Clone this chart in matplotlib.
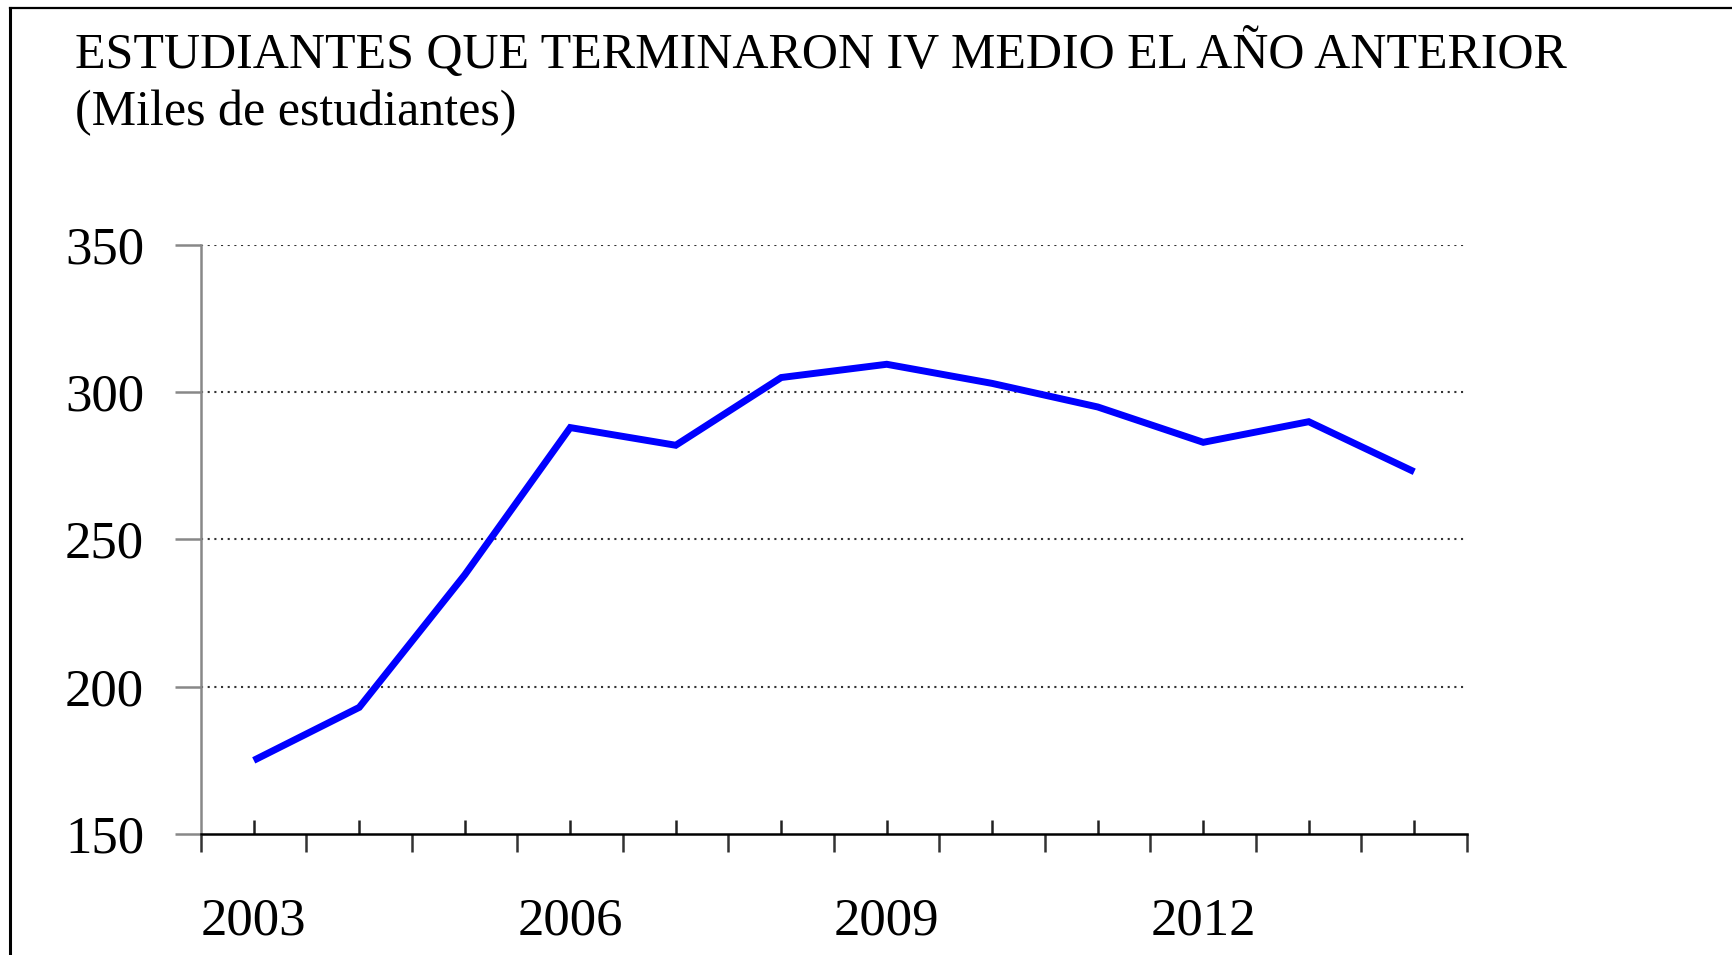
import matplotlib

matplotlib.use("Agg")
import matplotlib.pyplot as plt
import numpy as np
from matplotlib.lines import Line2D

plt.rcParams["font.family"] = ["Liberation Serif", "DejaVu Serif"]

# ------------------------------------------------------------------------------
# Data (miles de estudiantes)
# ------------------------------------------------------------------------------
YEARS = [2003, 2004, 2005, 2006, 2007, 2008, 2009, 2010, 2011, 2012, 2013, 2014]
STUDENTS = [175, 193, 238, 288, 282, 305, 309.5, 303, 295, 283, 290, 273]
YEAR_LABELS = [2003, 2006, 2009, 2012]
Y_TICKS = [150, 200, 250, 300, 350]

TITLE = "ESTUDIANTES QUE TERMINARON IV MEDIO EL AÑO ANTERIOR"
SUBTITLE = "(Miles de estudiantes)"

W, H = 1733, 955

fig = plt.figure(figsize=(W / 100, H / 100), dpi=100)
fig.patch.set_facecolor("white")

# axes box in pixels of the reference: x 201..1467, y 245..834
ax = fig.add_axes([201 / W, 1 - 834 / H, (1467 - 201) / W, (834 - 245) / H])

x = np.arange(len(YEARS))
ax.plot(x, STUDENTS, color="#0000ff", lw=5.0, solid_joinstyle="miter",
        solid_capstyle="butt", zorder=3)

ax.set_xlim(-0.5, len(YEARS) - 0.5)
ax.set_ylim(Y_TICKS[0], Y_TICKS[-1])

# dotted horizontal grid
for v in Y_TICKS[1:]:
    ax.axhline(v, color="#333333", lw=1.5, ls=(0, (1, 2.2)), zorder=1)

for s in ["top", "right"]:
    ax.spines[s].set_visible(False)
ax.spines["left"].set_color("#888888")
ax.spines["left"].set_linewidth(1.8)
ax.spines["bottom"].set_color("black")
ax.spines["bottom"].set_linewidth(1.8)

# x axis: tick marks inside at each year, outside at category edges
ax.set_xticks(x)
ax.set_xticklabels([str(y) if y in YEAR_LABELS else "" for y in YEARS])
ax.set_xticks(np.arange(len(YEARS) + 1) - 0.5, minor=True)
ax.tick_params(
    axis="x", which="major", direction="in", length=10, width=1.8,
    color="#222222", pad=46, labelsize=38,
)
ax.tick_params(axis="x", which="minor", direction="out", length=13, width=1.8, color="#333333")

ax.set_yticks(Y_TICKS)
ax.tick_params(
    axis="y", direction="out", length=19, width=1.8, color="#888888",
    pad=22, labelsize=38,
)

fig.text(75 / W, 1 - 68 / H, TITLE, fontsize=36, ha="left", va="baseline")
fig.text(75 / W, 1 - 125 / H, SUBTITLE, fontsize=36, ha="left", va="baseline")

# frame lines (top and left) of the original picture
fig.add_artist(Line2D([10 / W, 1], [1 - 8 / H, 1 - 8 / H], color="black", lw=1.6))
fig.add_artist(Line2D([10 / W, 10 / W], [0, 1 - 8 / H], color="black", lw=2.2))

fig.savefig("out.png", dpi=100)
